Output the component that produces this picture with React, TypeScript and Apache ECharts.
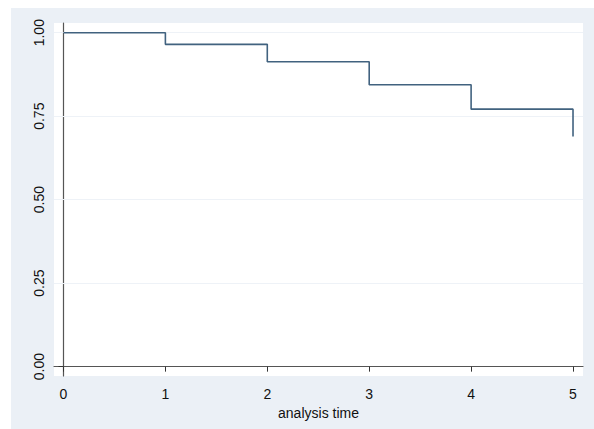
import React, { useEffect, useRef } from "react";
import * as echarts from "echarts";

const times = [0, 1, 2, 3, 4, 5];
const survival = [1.0, 0.965, 0.913, 0.844, 0.771, 0.689];
const xTicks = [0, 1, 2, 3, 4, 5];
const yTicks = [0, 0.25, 0.5, 0.75, 1.0];
const xTitle = "analysis time";

export default function App() {
  const ref = useRef<HTMLDivElement>(null);
  useEffect(() => {
    document.body.style.margin = "0";
    const chart = echarts.init(ref.current!, null, { renderer: "svg" });
    const font = "Liberation Sans, Arial, sans-serif";
    chart.setOption({
      animation: false,
      backgroundColor: "#ffffff",
      graphic: [
        {
          type: "rect",
          shape: { x: 11, y: 8, width: 583, height: 421 },
          style: { fill: "#EBF0F6" },
          z: -10,
          silent: true,
        },
      ],
      grid: {
        left: 54,
        top: 23,
        right: 11,
        bottom: 53,
        show: true,
        backgroundColor: "#ffffff",
        borderWidth: 0,
      },
      xAxis: {
        type: "value",
        min: -0.093,
        max: 5.098,
        name: xTitle,
        nameLocation: "middle",
        nameGap: 25,
        nameTextStyle: { fontFamily: font, fontSize: 14, color: "#111" },
        axisLine: { show: true, lineStyle: { color: "#555", width: 1.2 } },
        axisTick: {
          show: true,
          inside: false,
          length: 5,
          customValues: xTicks,
          lineStyle: { color: "#333", width: 1 },
        },
        axisLabel: {
          customValues: xTicks,
          margin: 11,
          fontFamily: font,
          fontSize: 14,
          color: "#111",
          formatter: (v: number) => String(v),
        },
        splitLine: { show: false },
      },
      yAxis: {
        type: "value",
        min: -0.028,
        max: 1.029,
        axisLine: { show: true, lineStyle: { color: "#555", width: 1.2 } },
        axisTick: {
          show: true,
          inside: false,
          length: 5,
          customValues: yTicks,
          lineStyle: { color: "#333", width: 1 },
        },
        axisLabel: {
          customValues: yTicks,
          rotate: 90,
          margin: 8,
          fontFamily: font,
          fontSize: 14,
          color: "#111",
          formatter: (v: number) => v.toFixed(2),
        },
        splitLine: { show: false },
      },
      series: [
        {
          type: "line",
          step: "end",
          data: times.map((t, i) => [t, survival[i]]),
          symbol: "none",
          lineStyle: { color: "#41627F", width: 1.6 },
          markLine: {
            silent: true,
            symbol: "none",
            label: { show: false },
            lineStyle: { color: "#EEF2F7", width: 1.2, type: "solid" },
            z: 1,
            data: yTicks.filter((v) => v > 0).map((v) => ({ yAxis: v })),
          },
          z: 3,
        },
      ],
    });
    return () => chart.dispose();
  }, []);
  return (
    <div
      ref={ref}
      style={{ position: "absolute", left: 0, top: 0, width: 594, height: 429 }}
    />
  );
}
